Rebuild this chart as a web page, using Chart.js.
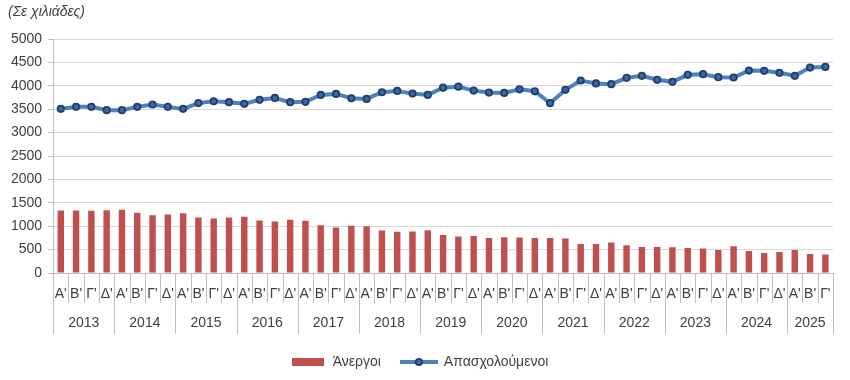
<!DOCTYPE html>
<html>
<head>
<meta charset="utf-8">
<script src="https://cdn.jsdelivr.net/npm/chart.js@4.4.1/dist/chart.umd.min.js"></script>
<style>
  html, body { margin: 0; padding: 0; background: #fff; }
  #wrap { width: 850px; height: 380px; }
</style>
</head>
<body>
<div id="wrap"><canvas id="laborChart"></canvas></div>
<script>
// Quarterly data, thousands of persons
const years = ['2013', '2014', '2015', '2016', '2017', '2018', '2019', '2020', '2021', '2022', '2023', '2024', '2025'];
const quarters = ["Α'", "Β'", "Γ'", "Δ'"];
const quartersPerYear = [4, 4, 4, 4, 4, 4, 4, 4, 4, 4, 4, 4, 3];

const employed = [
    3507, 3550, 3550, 3480,
    3480, 3550, 3600, 3550,
    3507, 3630, 3670, 3650,
    3615, 3700, 3740, 3650,
    3658, 3805, 3826, 3734,
    3720, 3862, 3890, 3833,
    3805, 3960, 3982, 3897,
    3855, 3848, 3925, 3883,
    3628, 3915, 4113, 4050,
    4035, 4170, 4213, 4128,
    4085, 4234, 4248, 4185,
    4177, 4326, 4319, 4277,
    4213, 4390, 4404
];

const unemployed = [
    1336, 1336, 1329, 1343,
    1350, 1286, 1236, 1250,
    1279, 1186, 1164, 1186,
    1200, 1121, 1100, 1136,
    1118, 1021, 971, 1007,
    1000, 907, 879, 886,
    914, 814, 779, 793,
    750, 764, 757, 750,
    750, 736, 621, 621,
    650, 593, 557, 557,
    550, 536, 521, 493,
    571, 471, 429, 450,
    493, 407, 393
];

const yMin = 0;
const yMax = 5000;
const yStep = 500;

// build category labels (quarter letters) and year spans
const categories = [];
const yearSpans = [];
years.forEach((y, i) => {
    yearSpans.push({ year: y, start: categories.length, count: quartersPerYear[i] });
    for (let q = 0; q < quartersPerYear[i]; q++) categories.push(quarters[q]);
});

const FONT = "'Liberation Sans', Arial, sans-serif";
const TEXT = '#404040';
const AXIS = '#bfbfbf';

// legend icons
function makeIcon(w, h, draw) {
    const c = document.createElement('canvas');
    c.width = w; c.height = h;
    draw(c.getContext('2d'));
    return c;
}
const barIcon = makeIcon(32, 8, ctx => {
    ctx.fillStyle = '#C0504D';
    ctx.fillRect(0, 0, 32, 8);
});
const lineIcon = makeIcon(38, 12, ctx => {
    ctx.strokeStyle = '#4F81BD';
    ctx.lineWidth = 4;
    ctx.beginPath(); ctx.moveTo(0, 6); ctx.lineTo(38, 6); ctx.stroke();
    ctx.beginPath(); ctx.arc(19, 6, 3.2, 0, Math.PI * 2);
    ctx.fillStyle = '#3A6AA0'; ctx.fill();
    ctx.lineWidth = 1.8; ctx.strokeStyle = '#1F3F6E'; ctx.stroke();
});

// two-level category axis (quarters + years) and the unit note
const twoLevelAxis = {
    id: 'twoLevelAxis',
    afterDraw(chart) {
        const { ctx, scales: { x } } = chart;
        const top = chart.chartArea.bottom;
        const w = x.width / categories.length;
        ctx.save();
        ctx.strokeStyle = AXIS;
        ctx.lineWidth = 1;
        ctx.fillStyle = TEXT;
        ctx.font = '14px ' + FONT;
        ctx.textAlign = 'center';
        ctx.textBaseline = 'middle';

        categories.forEach((q, i) => {
            const cx = x.getPixelForValue(i);
            ctx.fillText(q, cx, top + 21);
            const left = Math.round(cx - w / 2) + 0.5;
            ctx.beginPath(); ctx.moveTo(left, top); ctx.lineTo(left, top + 30); ctx.stroke();
        });

        yearSpans.forEach(s => {
            const x0 = x.getPixelForValue(s.start) - w / 2;
            const x1 = x.getPixelForValue(s.start + s.count - 1) + w / 2;
            ctx.fillText(s.year, (x0 + x1) / 2, top + 50);
            [x0, x1].forEach(px => {
                const p = Math.round(px) + 0.5;
                ctx.beginPath(); ctx.moveTo(p, top); ctx.lineTo(p, top + 61); ctx.stroke();
            });
        });

        ctx.font = 'italic 14px ' + FONT;
        ctx.textAlign = 'left';
        ctx.fillText('(Σε χιλιάδες)', 8, 12);
        ctx.restore();
    }
};

new Chart(document.getElementById('laborChart'), {
    type: 'bar',
    data: {
        labels: categories,
        datasets: [
            {
                type: 'bar',
                label: 'Άνεργοι',
                data: unemployed,
                backgroundColor: '#C0504D',
                barPercentage: 0.42,
                categoryPercentage: 1.0
            },
            {
                type: 'line',
                label: 'Απασχολούμενοι',
                data: employed,
                borderColor: '#4F81BD',
                borderWidth: 4,
                pointRadius: 3.2,
                pointBorderWidth: 1.8,
                pointBackgroundColor: '#3A6AA0',
                pointBorderColor: '#1F3F6E',
                tension: 0
            }
        ]
    },
    options: {
        responsive: true,
        maintainAspectRatio: false,
        animation: false,
        layout: { padding: { top: 39, right: 17, left: 5, bottom: 1 } },
        scales: {
            x: {
                offset: true,
                grid: { display: false },
                border: { display: true, color: AXIS },
                ticks: { display: false },
                afterFit: scale => { scale.height = 62; }
            },
            y: {
                min: yMin,
                max: yMax,
                ticks: {
                    stepSize: yStep,
                    color: TEXT,
                    padding: 6,
                    font: { family: FONT, size: 14 },
                    callback: value => String(value)
                },
                grid: { color: '#d9d9d9', tickLength: 5, tickColor: AXIS },
                border: { display: true, color: AXIS }
            }
        },
        plugins: {
            tooltip: { enabled: false },
            legend: {
                position: 'bottom',
                labels: {
                    usePointStyle: true,
                    pointStyleWidth: 36,
                    padding: 20,
                    color: TEXT,
                    font: { family: FONT, size: 14 },
                    generateLabels: chart => chart.data.datasets.map((ds, i) => ({
                        text: ds.label,
                        datasetIndex: i,
                        pointStyle: i === 0 ? barIcon : lineIcon,
                        fontColor: TEXT,
                        fillStyle: 'transparent',
                        strokeStyle: 'transparent',
                        lineWidth: 0,
                        hidden: false
                    }))
                }
            }
        }
    },
    plugins: [twoLevelAxis]
});
</script>
</body>
</html>
